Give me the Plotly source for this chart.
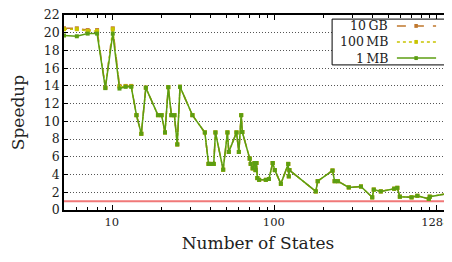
import plotly.graph_objects as go
import math

states = [5, 6, 7, 8, 9, 10, 11, 12, 13, 14, 15, 16, 19, 20, 21, 22, 23, 24, 25, 26, 31, 37, 39, 40, 42, 43,
          48, 51, 52, 58, 60, 62, 63, 70, 71, 73, 75, 76, 77, 78, 80, 88, 92, 97, 100, 109, 121, 122, 123,
          179, 184, 227, 234, 245, 286, 340, 399, 408, 451, 545, 570, 591, 698, 758, 892, 904, 1240]

speed_1mb = [19.7, 19.6, 19.9, 19.9, 13.75, 19.9, 13.7, 13.9, 13.9, 10.7, 8.6, 13.8, 10.7, 10.7, 8.75, 13.86,
             10.7, 10.7, 7.4, 13.9, 10.7, 8.75, 5.2, 5.2, 5.2, 8.75, 4.55, 8.75, 6.55, 8.75, 6.55, 10.7, 8.8,
             5.8, 5.2, 4.7, 5.3, 4.5, 5.3, 3.6, 3.4, 3.4, 3.5, 5.3, 4.5, 2.95, 5.2, 3.8, 4.5,
             2.1, 3.25, 4.45, 3.25, 3.25, 2.55, 2.65, 1.43, 2.3, 2.1, 2.4, 2.5, 1.5, 1.43, 1.6, 1.25, 1.5, 1.95]

speed_100mb = [20.4, 20.4, 20.2, 20.2, 13.8, 20.4, 13.9, 13.95, 13.95] + speed_1mb[9:]
speed_10gb = [20.5, 20.5, 20.3, 20.3, 13.8, 20.5, 14.0, 14.0, 14.0] + speed_1mb[9:]

legend_labels = ["10\u2009GB", "100\u2009MB", "1\u2009MB"]
y_ticks = list(range(0, 23, 2))
x_tick_vals = [10, 100, 1000]
x_tick_text = ["10", "100", "1288"]
x_minor = [6, 7, 8, 9, 20, 30, 40, 50, 60, 70, 80, 90, 200, 300, 400, 500, 600, 700, 800, 900]

c10gb = "#c0782e"
c100mb = "#c8c400"
c1mb = "#5c9e12"
font = "DejaVu Serif"

fig = go.Figure()
fig.add_hline(y=1, line=dict(color="#f07878", width=2), layer="below")

series = [
    (legend_labels[0], speed_10gb, c10gb, "dash"),
    (legend_labels[1], speed_100mb, c100mb, "dot"),
    (legend_labels[2], speed_1mb, c1mb, "solid"),
]
for name, ys, col, dash in series:
    fig.add_trace(go.Scatter(
        x=states, y=ys, name=name, mode="lines+markers",
        line=dict(color=col, width=1.5, dash=dash),
        marker=dict(symbol="square", size=4, color=col),
        showlegend=False,
    ))

# manual legend (text on the left, sample on the right)
lx0, lx1 = 0.691, 0.985
ly0, ly1 = 0.744, 0.979
fig.add_shape(type="rect", xref="paper", yref="paper", x0=lx0, x1=lx1, y0=ly0, y1=ly1,
              line=dict(color="black", width=1), fillcolor="white", layer="above")
rows = [0.944, 0.862, 0.779]
for (name, ys, col, dash), ry in zip(series, rows):
    fig.add_annotation(x=0.832, y=ry, xref="paper", yref="paper", text=name, showarrow=False,
                       xanchor="right", yanchor="middle", xshift=3,
                       font=dict(family=font, size=12.5, color="#222"))
    fig.add_shape(type="line", xref="paper", yref="paper", x0=0.858, x1=0.959, y0=ry, y1=ry,
                  line=dict(color=col, width=1.5, dash=dash), layer="above")
    fig.add_shape(type="rect", xref="paper", yref="paper", x0=0.903, x1=0.912, y0=ry - 0.01, y1=ry + 0.01,
                  line=dict(color=col, width=0), fillcolor=col, layer="above")

# page body has an 8px default margin, so the figure is sized/offset to compensate
fig.update_layout(
    width=452, height=254,
    margin=dict(l=56, r=8, t=7, b=52),
    plot_bgcolor="white", paper_bgcolor="white",
    font=dict(family=font, size=12, color="#222"),
    showlegend=False,
)
fig.update_xaxes(
    type="log", range=[math.log10(5), math.log10(1240)],
    tickvals=x_tick_vals, ticktext=x_tick_text, ticklabeloverflow="allow",
    tickfont=dict(size=11.5), ticklabelshift=-1,
    ticks="inside", ticklen=5, tickcolor="black",
    minor=dict(tickvals=x_minor, ticks="inside", ticklen=3, tickcolor="black"),
    showline=True, linecolor="black", linewidth=1.5, mirror="ticks",
    showgrid=False, zeroline=False, automargin=False,
    title=dict(text="Number of States", font=dict(family=font, size=17), standoff=10),
)
fig.update_yaxes(
    range=[0, 22], tickvals=y_ticks, tickfont=dict(size=12.5), ticklabeloverflow="allow",
    ticks="inside", ticklen=4, tickcolor="black",
    showline=True, linecolor="black", linewidth=1.5, mirror="ticks",
    showgrid=True, gridcolor="#555", griddash="1px,2px", gridwidth=1,
    zeroline=False, automargin=False,
    title=dict(text="Speedup", font=dict(family=font, size=17), standoff=20),
)
fig.write_html("out.html")
